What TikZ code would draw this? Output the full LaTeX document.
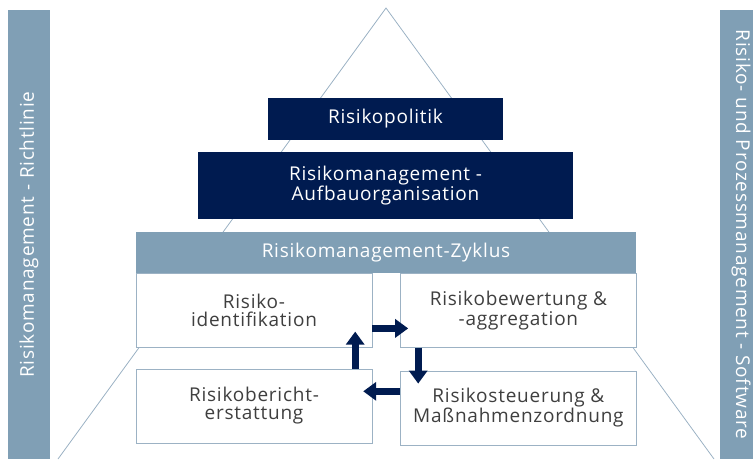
\documentclass[tikz,border=0pt]{standalone}
\usepackage{fontspec}
\setmainfont[LetterSpace=4]{Open Sans}
\usetikzlibrary{positioning, arrows.meta}
\definecolor{navy}{HTML}{001B50}
\definecolor{steel}{HTML}{809FB5}
\definecolor{frame}{HTML}{9CB2C4}
\definecolor{textgray}{HTML}{3F3F3F}
\tikzset{x=1pt, y=-1pt, % pixel-like coordinates, y runs downwards
every node/.style={ % Sets the properties for each box
inner sep=0pt, align=center,
font=\fontsize{19}{18}\selectfont},
darkbox/.style={fill=navy, text=white}, % Upper levels of the pyramid
headbox/.style={fill=steel, text=white}, % Title of the cycle
stepcard/.style={draw=frame, fill=white, text=textgray,
minimum width=236pt, minimum height=74pt},
sidebar/.style={fill=steel, text=white,
minimum width=449pt, minimum height=42pt},
cyclearrow/.style={ % Makes the bold block arrows of the cycle
draw=navy, line width=7pt,
-{Triangle[width=18pt,length=13pt]}},
pyramid/.style={draw=frame, line width=0.8pt}}

\begin{document}
\begin{tikzpicture}
    \useasboundingbox (0,0) rectangle (753,459);

    \coordinate (apex) at (386,8);
    \coordinate (baseL) at (58,459);
    \coordinate (baseR) at (714,459);
    \draw[pyramid] (baseL) -- (apex) -- (baseR);

    \node[sidebar, rotate=90] (left) at (29,234.5) {Risikomanagement - Richtlinie};
    \node[sidebar, rotate=-90] (right) at (741,234.5) {Risiko- und Prozessmanagement - Software};

    \node[darkbox, minimum width=235pt, minimum height=42pt] (politik) at (385.5,119) {Risikopolitik};
    \node[darkbox, minimum width=375pt, minimum height=67pt] (aufbau) at (385.5,185.5) {Risikomanagement -\\Aufbauorganisation};
    \node[headbox, minimum width=500pt, minimum height=41pt] (zyklus) at (386,252.5) {Risikomanagement-Zyklus};

    \node[stepcard, below right=0pt and 0pt of zyklus.south west] (ident) {Risiko-\\identifikation};
    \node[stepcard, right=28pt of ident] (bewert) {Risikobewertung \&\\-aggregation};
    \node[stepcard, below=23pt of bewert] (steuer) {Risikosteuerung \&\\Maßnahmenzordnung};
    \node[stepcard, below=21pt of ident] (bericht) {Risikobericht-\\erstattung};

    \draw[cyclearrow] ([yshift=-18pt]ident.east) -- ([yshift=-18pt,xshift=8pt]bewert.west);
    \draw[cyclearrow] ([xshift=18pt]bewert.south west) -- ([xshift=18pt,yshift=-13pt]steuer.north west);
    \draw[cyclearrow] ([yshift=16.5pt]steuer.west) -- ([yshift=14.5pt,xshift=-9pt]bericht.east);
    \draw[cyclearrow] ([xshift=-17pt]bericht.north east) -- ([xshift=-17pt,yshift=16pt]ident.south east);

\end{tikzpicture}
\end{document}
